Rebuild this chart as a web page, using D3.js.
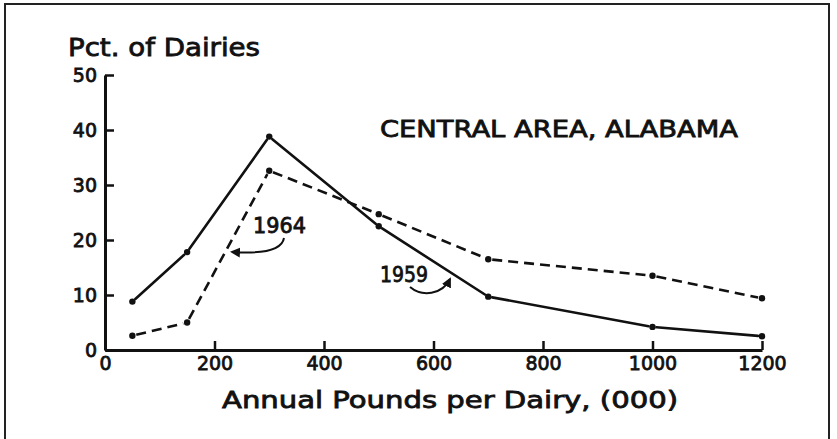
<!DOCTYPE html>
<html>
  <head>
    <meta charset="utf-8" />
    <script src="https://d3js.org/d3.v7.min.js"></script>
    <style>
      body { margin: 0; background: #fff; }
      text { font-family: "DejaVu Sans", sans-serif; fill: #111; stroke: #111; stroke-width: 0.8px; }
      .line { fill: none; stroke: #111; stroke-width: 2.6px; }
    </style>
  </head>
  <body>
    <svg id="chart" width="837" height="439"></svg>

    <script>
      var svg = d3.select("#chart");

      // pounds per dairy (000) and percent of dairies
      var pounds = [50, 150, 300, 500, 700, 1000, 1200];
      var pct1959 = [8.8, 17.8, 38.8, 22.5, 9.7, 4.2, 2.5];
      var pct1964 = [2.6, 5.0, 32.6, 24.7, 16.5, 13.5, 9.4];
      var xTicks = [0, 200, 400, 600, 800, 1000, 1200];
      var yTicks = [0, 10, 20, 30, 40, 50];

      var x = d3.scaleLinear().domain([0, 1200]).range([105, 762]);
      var y = d3.scaleLinear().domain([0, 50]).range([350, 75]);

      // frame (open at the bottom)
      svg.append("path")
        .attr("d", "M5,445 V4 H829 V445")
        .attr("fill", "none")
        .attr("stroke", "#222")
        .attr("stroke-width", 2);

      // axes
      var xAxis = svg.append("g")
        .attr("class", "axis")
        .attr("transform", "translate(0," + y(0) + ")")
        .call(d3.axisBottom(x).tickValues(xTicks).tickFormat(d3.format("d"))
          .tickSizeInner(-9).tickSizeOuter(0).tickPadding(7));

      var yAxis = svg.append("g")
        .attr("class", "axis")
        .attr("transform", "translate(" + x(0) + ",0)")
        .call(d3.axisLeft(y).tickValues(yTicks).tickFormat(d3.format("d"))
          .tickSizeInner(-9).tickSizeOuter(0).tickPadding(8));

      svg.selectAll(".axis .domain").attr("stroke", "#111").attr("stroke-width", 3);
      svg.selectAll(".axis .tick line").attr("stroke", "#111").attr("stroke-width", 2.5);
      svg.selectAll(".axis text")
        .attr("font-family", "DejaVu Sans")
        .attr("font-size", 19)
        .attr("fill", "#111");

      // series drawn as segments that stop just short of each dot
      function drawSeries(vals, dash) {
        var pts = pounds.map(function(p, i) { return [x(p), y(vals[i])]; });
        var gap = 4;
        for (var i = 0; i < pts.length - 1; i++) {
          var a = pts[i], b = pts[i + 1];
          var dx = b[0] - a[0], dy = b[1] - a[1];
          var len = Math.sqrt(dx * dx + dy * dy);
          var ux = dx / len, uy = dy / len;
          svg.append("line")
            .attr("class", "line")
            .attr("x1", a[0] + ux * gap).attr("y1", a[1] + uy * gap)
            .attr("x2", b[0] - ux * gap).attr("y2", b[1] - uy * gap)
            .attr("stroke-dasharray", dash)
            .attr("stroke-linecap", dash ? "butt" : "round");
        }
        svg.selectAll(null)
          .data(pts)
          .enter().append("circle")
          .attr("cx", function(d) { return d[0]; })
          .attr("cy", function(d) { return d[1]; })
          .attr("r", 3.2)
          .attr("fill", "#111");
      }

      drawSeries(pct1959, null);
      drawSeries(pct1964, "10,6");

      // labels
      svg.append("text")
        .attr("x", 68).attr("y", 56)
        .attr("font-size", 24)
        .attr("textLength", 192).attr("lengthAdjust", "spacingAndGlyphs")
        .text("Pct. of Dairies");

      svg.append("text")
        .attr("x", 380).attr("y", 137)
        .attr("font-size", 23)
        .attr("textLength", 358).attr("lengthAdjust", "spacingAndGlyphs")
        .text("CENTRAL AREA, ALABAMA");

      svg.append("text")
        .attr("x", 450).attr("y", 408)
        .attr("text-anchor", "middle")
        .attr("font-size", 23)
        .attr("textLength", 456).attr("lengthAdjust", "spacingAndGlyphs")
        .text("Annual Pounds per Dairy, (000)");

      svg.append("text")
        .attr("x", 253).attr("y", 233)
        .attr("font-size", 21)
        .attr("textLength", 53).attr("lengthAdjust", "spacingAndGlyphs")
        .text("1964");

      svg.append("text")
        .attr("x", 380).attr("y", 282)
        .attr("font-size", 21)
        .attr("textLength", 48).attr("lengthAdjust", "spacingAndGlyphs")
        .text("1959");

      // curved pointer arrows
      svg.append("defs").append("marker")
        .attr("id", "head")
        .attr("viewBox", "0 0 10 10")
        .attr("refX", 8).attr("refY", 5)
        .attr("markerWidth", 5).attr("markerHeight", 5)
        .attr("orient", "auto")
        .append("path")
        .attr("d", "M0,0 L10,5 L0,10 z")
        .attr("fill", "#111");

      svg.append("path")
        .attr("d", "M284,238 C282,250 262,254 232,252")
        .attr("fill", "none").attr("stroke", "#111").attr("stroke-width", 2)
        .attr("marker-end", "url(#head)");

      svg.append("path")
        .attr("d", "M410,287 C422,297 442,295 450,279")
        .attr("fill", "none").attr("stroke", "#111").attr("stroke-width", 2)
        .attr("marker-end", "url(#head)");
    </script>
  </body>
</html>
